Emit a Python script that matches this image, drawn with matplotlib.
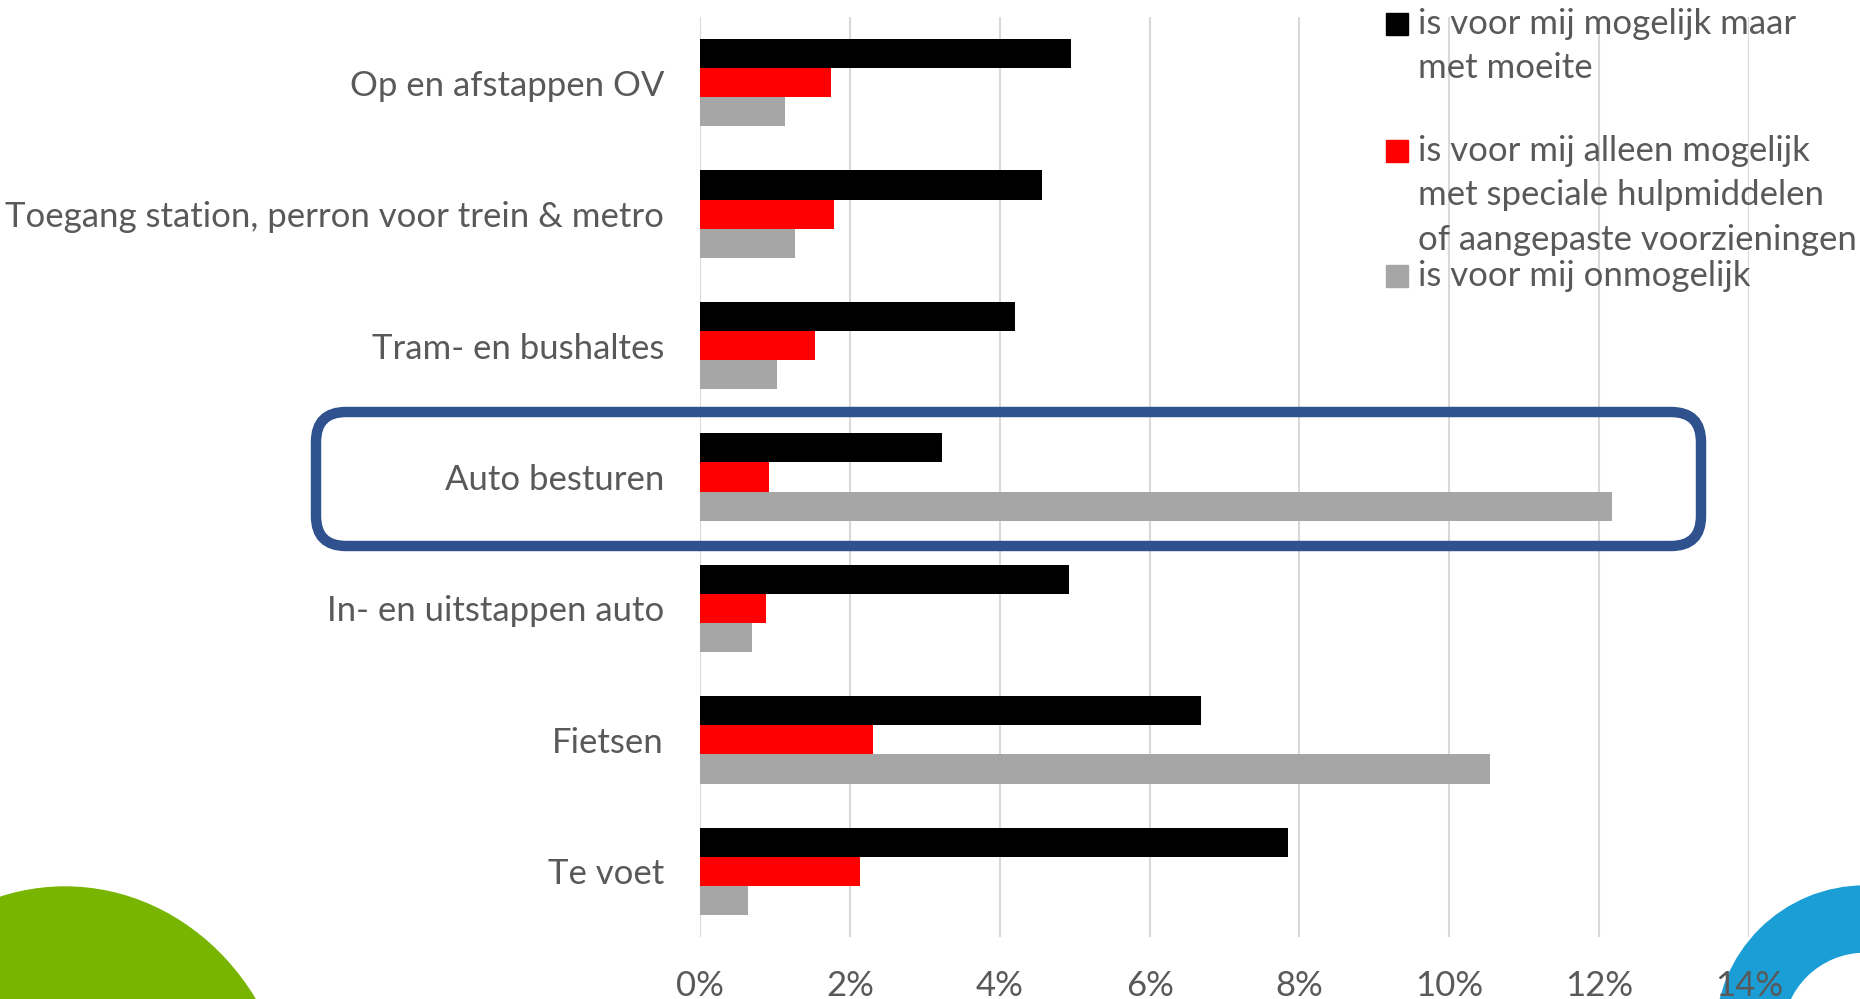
import matplotlib
matplotlib.use('Agg')
import matplotlib.pyplot as plt
import numpy as np
from matplotlib.patches import Rectangle, FancyBboxPatch, Ellipse, Annulus
from matplotlib.transforms import IdentityTransform

plt.rcParams['font.family'] = ['Lato', 'DejaVu Sans']

categories = ['Op en afstappen OV', 'Toegang station, perron voor trein & metro',
              'Tram- en bushaltes', 'Auto besturen', 'In- en uitstappen auto',
              'Fietsen', 'Te voet']
met_moeite = [4.95, 4.56, 4.21, 3.23, 4.92, 6.69, 7.85]
hulpmiddelen = [1.75, 1.79, 1.53, 0.92, 0.88, 2.31, 2.13]
onmogelijk = [1.13, 1.27, 1.03, 12.17, 0.69, 10.55, 0.64]
xticks = [0, 2, 4, 6, 8, 10, 12, 14]

series = [
    (['is voor mij mogelijk maar', 'met moeite'], met_moeite, '#000000'),
    (['is voor mij alleen mogelijk', 'met speciale hulpmiddelen',
      'of aangepaste voorzieningen'], hulpmiddelen, '#FF0000'),
    (['is voor mij onmogelijk'], onmogelijk, '#A6A6A6'),
]

W, H = 1860, 999
txt = '#595959'
fs = 25

fig = plt.figure(figsize=(W / 100, H / 100), dpi=100)
fig.patch.set_facecolor('white')
ax = fig.add_axes([700 / W, 1 - 937 / H, (1749 - 700) / W, (937 - 17) / H])
ax.patch.set_visible(False)

y = np.arange(len(categories))
bh = 0.222
for k, (lab, vals, col) in enumerate(series):
    ax.barh(y + (k - 1) * bh, vals, height=bh, color=col, zorder=3)

ax.set_ylim(len(categories) - 0.5, -0.5)
ax.set_xlim(0, 14)
ax.set_yticks(y)
ax.set_yticklabels(categories, fontsize=fs, color=txt)
ax.set_xticks(xticks)
ax.set_xticklabels([f'{t}%' for t in xticks], fontsize=fs, color=txt)
ax.tick_params(axis='y', length=0, pad=26)
ax.tick_params(axis='x', length=0, pad=24)
ax.grid(axis='x', color='#D9D9D9', linewidth=1.5, zorder=0)
for s in ax.spines.values():
    s.set_visible(False)

# legend, drawn by hand to keep the uneven spacing
rows = [[24, 68], [151, 195, 240], [276]]
for (lab, vals, col), ys in zip(series, rows):
    fig.patches.append(Rectangle((1386 / W, 1 - (ys[0] + 11) / H), 22 / W, 22 / H,
                                 transform=fig.transFigure, color=col))
    for line, yy in zip(lab, ys):
        fig.text(1418 / W, 1 - yy / H, line, fontsize=fs, color=txt, va='center', ha='left')

# highlight box around "Auto besturen"
box = FancyBboxPatch((316, H - 546), 1701 - 316, 546 - 412,
                     boxstyle='round,pad=0,rounding_size=30',
                     transform=IdentityTransform(), fill=False,
                     edgecolor='#2F528F', linewidth=7.5, zorder=5)
fig.patches.append(box)

# decorative shapes in the corners
fig.patches.append(Ellipse((65, H - 1137), 456, 500, transform=IdentityTransform(),
                           color='#77B500', zorder=-1))
fig.patches.append(Annulus((1865, H - 1035), 149, 66, transform=IdentityTransform(),
                           color='#1B9DD6', zorder=-1))

fig.savefig('out.png', dpi=100)
